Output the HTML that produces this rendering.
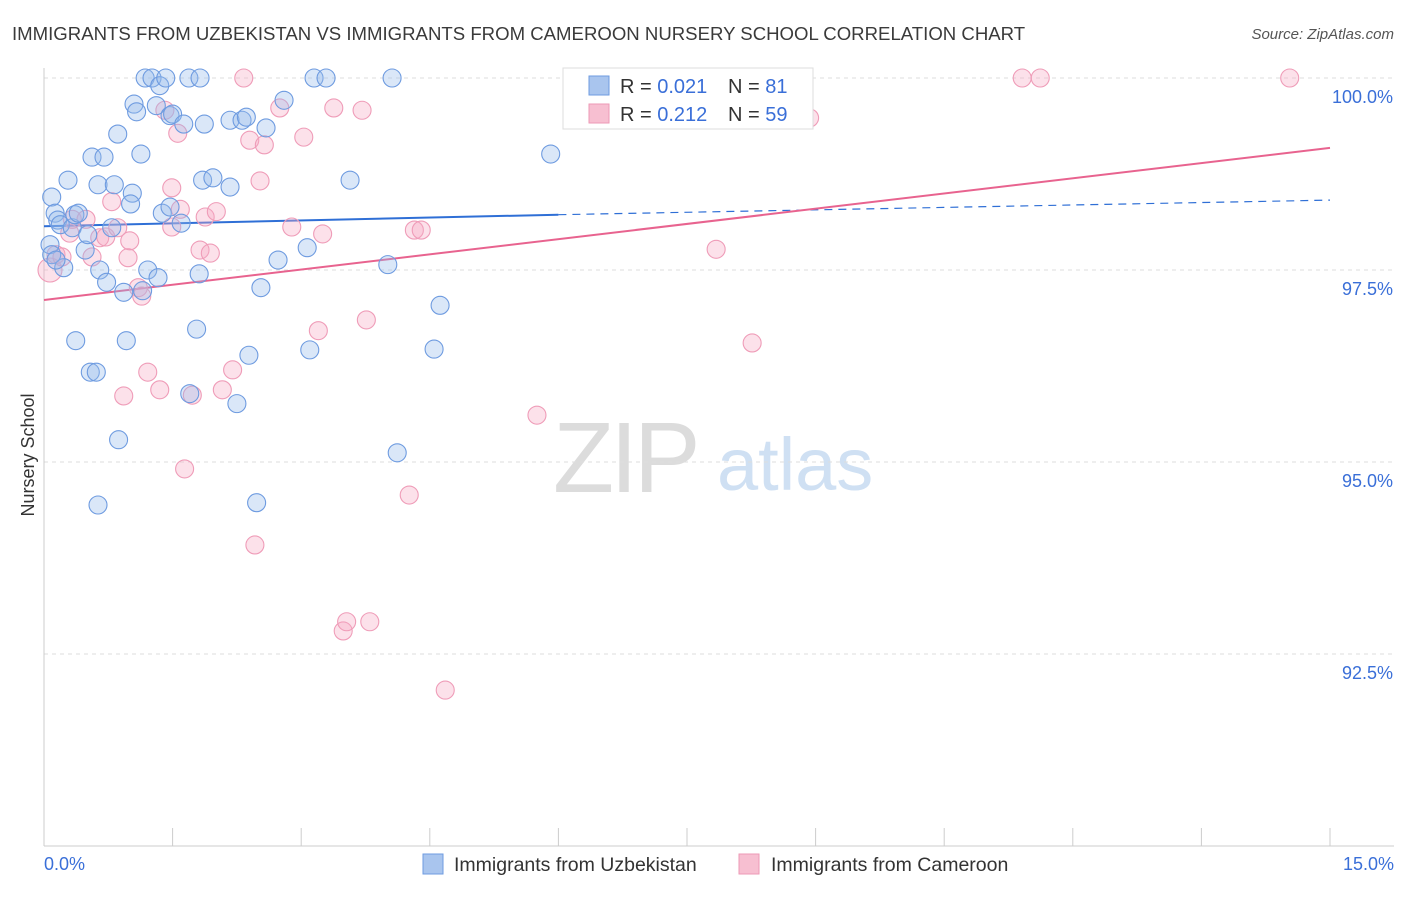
<!DOCTYPE html>
<html><head><meta charset="utf-8"><style>
body{margin:0;background:#fff;font-family:"Liberation Sans",sans-serif;}
svg text{font-family:"Liberation Sans",sans-serif;}
</style></head><body>
<svg width="1406" height="892" viewBox="0 0 1406 892" xmlns="http://www.w3.org/2000/svg">
<text x="12" y="40" font-size="18.6" fill="#3a3a3a">IMMIGRANTS FROM UZBEKISTAN VS IMMIGRANTS FROM CAMEROON NURSERY SCHOOL CORRELATION CHART</text>
<text x="1394" y="39" font-size="15" fill="#555" font-style="italic" text-anchor="end">Source: ZipAtlas.com</text>
<g>
<text x="553" y="492" font-size="100" fill="#dcdcdc" font-family="Liberation Serif" letter-spacing="-4">ZIP</text>
<text x="717" y="490" font-size="74" fill="#cfe0f3">atlas</text>
</g>
<g id="grid"></g>
<g id="axes"></g>
<g id="trends"></g>
<g id="points"></g>
<text transform="translate(34,455) rotate(-90)" font-size="18" fill="#333" text-anchor="middle">Nursery School</text>
<text x="44" y="870" font-size="18" fill="#3a6fd8">0.0%</text>
<text x="1394" y="870" font-size="18" fill="#3a6fd8" text-anchor="end">15.0%</text>
<g>
<rect x="563" y="68" width="250" height="61" fill="#fff" stroke="#ddd"/>
<rect x="589" y="76" width="20" height="19" fill="#a9c5ee" stroke="#6e9be0"/>
<rect x="589" y="104" width="20" height="19" fill="#f7bfd1" stroke="#ee9ab6"/>
<text x="620" y="93" font-size="20" fill="#333">R = <tspan fill="#3a6fd8">0.021</tspan><tspan x="728">N = </tspan><tspan fill="#3a6fd8">81</tspan></text>
<text x="620" y="121" font-size="20" fill="#333">R = <tspan fill="#3a6fd8">0.212</tspan><tspan x="728">N = </tspan><tspan fill="#3a6fd8">59</tspan></text>
</g>
<g>
<rect x="423" y="854" width="20" height="20" fill="#a9c5ee" stroke="#6e9be0"/>
<text x="454" y="871" font-size="19.5" fill="#333">Immigrants from Uzbekistan</text>
<rect x="739" y="854" width="20" height="20" fill="#f7bfd1" stroke="#ee9ab6"/>
<text x="771" y="871" font-size="19.5" fill="#333">Immigrants from Cameroon</text>
</g>
</svg>
<script>
const yTicks=[100,97.5,95,92.5];
const yTickLabels=["100.0%","97.5%","95.0%","92.5%"];
const xTicks=[0,1.5,3,4.5,6,7.5,9,10.5,12,13.5,15];
const blueX=[0.09,0.13,0.16,0.19,0.28,0.33,0.36,0.40,0.23,0.07,0.09,0.14,0.48,0.51,0.56,0.63,0.70,0.65,0.73,0.82,0.79,0.86,0.93,0.96,0.37,0.54,0.61,0.63,0.87,1.03,1.01,1.05,1.08,1.13,1.18,1.26,1.31,1.35,1.42,1.47,1.50,1.69,1.63,1.21,1.33,1.38,1.47,1.60,1.81,1.78,1.70,1.87,1.85,1.97,2.17,2.17,2.31,2.36,2.25,2.39,2.48,2.53,2.59,2.73,2.80,3.07,3.10,3.15,3.29,3.57,4.01,4.06,4.12,4.55,4.62,5.91,1.15,1.82];
const blueY=[98.45,98.24,98.15,98.09,98.67,98.05,98.22,98.24,97.53,97.83,97.70,97.63,97.76,97.96,98.97,98.61,98.97,97.50,97.34,98.61,98.05,99.27,97.21,96.58,96.58,96.17,96.17,94.44,95.29,98.50,98.36,99.66,99.56,99.01,100,100,99.64,99.90,100,99.51,99.53,100,99.40,97.50,97.40,98.24,98.32,98.11,97.45,96.73,95.89,99.40,98.67,98.70,98.58,99.45,99.45,99.49,95.76,96.39,94.47,97.27,99.35,97.63,99.71,97.79,96.46,100,100,98.67,97.57,100,95.12,96.47,97.04,99.01,97.23,100];
const pinkX=[0.07,0.14,0.21,0.30,0.33,0.49,0.56,0.65,0.72,0.79,0.86,0.93,0.98,1.00,1.10,1.14,1.21,1.35,1.41,1.49,1.56,1.59,1.49,1.64,1.73,1.82,1.88,1.94,2.01,2.08,2.20,2.33,2.40,2.46,2.52,2.57,2.75,2.89,3.03,3.20,3.25,3.38,3.49,3.53,3.71,3.76,3.80,4.26,4.32,4.40,4.68,5.75,7.84,8.26,8.67,8.93,11.41,11.62,14.53];
const pinkY=[97.50,97.70,97.67,97.98,98.16,98.16,97.67,97.92,97.93,98.39,98.05,95.86,97.66,97.88,97.27,97.16,96.17,95.94,99.58,98.57,99.28,98.29,98.06,94.91,95.87,97.76,98.19,97.72,98.26,95.94,96.20,100,99.19,93.92,98.66,99.13,99.61,98.06,99.23,96.71,97.97,99.61,92.80,92.92,99.58,96.85,92.92,94.57,98.02,98.02,92.03,95.61,97.77,96.55,100,99.48,100,100,100];
const blueTrendX=[0,6,15];
const blueTrendY=[98.07,98.22,98.41];
const pinkTrendX=[0,15];
const pinkTrendY=[97.11,99.09];

const NS="http://www.w3.org/2000/svg";
const X0=44,X1=1330,YTOP=78,YBOT=846;
function sx(v){return X0+v/15*(X1-X0);}
function sy(v){return YTOP+(100-v)/10*(YBOT-YTOP);}
function mk(tag,attrs,parent){const e=document.createElementNS(NS,tag);for(const k in attrs)e.setAttribute(k,attrs[k]);parent.appendChild(e);return e;}
const grid=document.getElementById('grid'),axes=document.getElementById('axes');
yTicks.forEach((t,i)=>{
  const l=mk('line',{x1:X0,x2:1394,y1:sy(t),y2:sy(t),stroke:'#dedede','stroke-dasharray':'4,4'},grid);
  
  
  const tx=mk('text',{x:1393,y:sy(t)+25,'font-size':18,fill:'#3a6fd8','text-anchor':'end'},axes);
  tx.textContent=yTickLabels[i];
  
  
});
const ya=mk('line',{x1:X0,x2:X0,y1:68,y2:YBOT,stroke:'#ccc'},axes);


const xa=mk('line',{x1:X0,x2:1394,y1:YBOT,y2:YBOT,stroke:'#ccc'},axes);


xTicks.forEach(t=>{
  const l=mk('line',{x1:sx(t),x2:sx(t),y1:828,y2:YBOT,stroke:'#ccc'},axes);
  
  
});
const trends=document.getElementById('trends');
const b1=mk('line',{x1:sx(blueTrendX[0]),y1:sy(blueTrendY[0]),x2:sx(blueTrendX[1]),y2:sy(blueTrendY[1]),stroke:'#2f6fd6','stroke-width':2},trends);


const b2=mk('line',{x1:sx(blueTrendX[1]),y1:sy(blueTrendY[1]),x2:sx(blueTrendX[2]),y2:sy(blueTrendY[2]),stroke:'#2f6fd6','stroke-width':1.2,'stroke-dasharray':'8,6'},trends);


const p1=mk('line',{x1:sx(pinkTrendX[0]),y1:sy(pinkTrendY[0]),x2:sx(pinkTrendX[1]),y2:sy(pinkTrendY[1]),stroke:'#e8638f','stroke-width':2},trends);


const pts=document.getElementById('points');
pinkX.forEach((x,i)=>{
  const c=mk('circle',{cx:sx(x),cy:sy(pinkY[i]),r:i===0?12:9,fill:'rgba(245,170,196,0.35)',stroke:'#ef9cb8','stroke-width':1.1},pts);
  
  
});
blueX.forEach((x,i)=>{
  const c=mk('circle',{cx:sx(x),cy:sy(blueY[i]),r:9,fill:'rgba(150,185,235,0.35)',stroke:'#6e9be0','stroke-width':1.1},pts);
  
  
});
</script>
</body></html>
